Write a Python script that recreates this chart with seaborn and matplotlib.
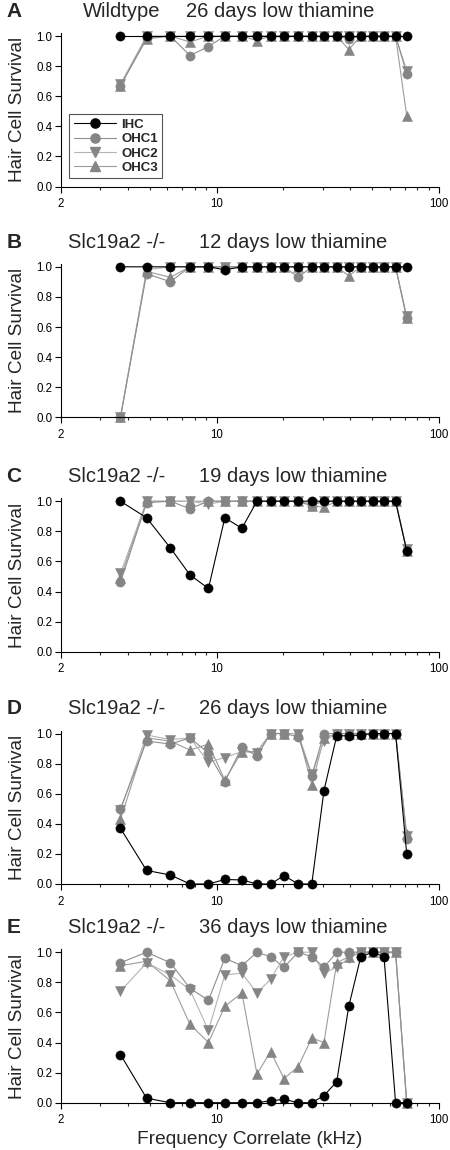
import matplotlib
matplotlib.use('Agg')
import matplotlib.pyplot as plt
import matplotlib.ticker as mticker
from matplotlib.lines import Line2D
import seaborn as sns

# frequency correlate of each counted cochlear position (kHz)
freq_khz = [3.7, 4.85, 6.2, 7.6, 9.2, 10.9, 13.0, 15.2, 17.5, 20.1,
            23.3, 26.8, 30.4, 34.7, 39.3, 44.5, 50.3, 56.6, 63.8, 71.6]

# A: wildtype, 26 days low thiamine
ihc_a = [1.0, 1.0, 1.0, 1.0, 1.0, 1.0, 1.0, 1.0, 1.0, 1.0,
         1.0, 1.0, 1.0, 1.0, 1.0, 1.0, 1.0, 1.0, 1.0, 1.0]
ohc1_a = [0.67, 0.99, 1.0, 0.87, 0.93, 1.0, 1.0, 1.0, 1.0, 1.0,
          1.0, 1.0, 1.0, 1.0, 0.98, 1.0, 1.0, 1.0, 1.0, 0.75]
ohc2_a = [0.68, 1.0, 1.0, 1.0, 1.0, 1.0, 1.0, 1.0, 1.0, 1.0,
          1.0, 1.0, 1.0, 1.0, 1.0, 1.0, 1.0, 1.0, 1.0, 0.77]
ohc3_a = [0.67, 0.98, 1.0, 0.96, 1.0, 1.0, 1.0, 0.97, 1.0, 1.0,
          1.0, 1.0, 1.0, 1.0, 0.91, 1.0, 1.0, 1.0, 1.0, 0.47]

# B: Slc19a2 -/-, 12 days
ihc_b = [1.0, 1.0, 1.0, 1.0, 1.0, 0.98, 1.0, 1.0, 1.0, 1.0,
         1.0, 1.0, 1.0, 1.0, 1.0, 1.0, 1.0, 1.0, 1.0, 1.0]
ohc1_b = [0.0, 0.955, 0.90, 1.0, 1.0, 1.0, 1.0, 1.0, 1.0, 1.0,
          0.93, 1.0, 1.0, 1.0, 1.0, 1.0, 1.0, 1.0, 1.0, 0.66]
ohc2_b = [0.0, 0.98, 1.0, 1.0, 1.0, 1.0, 1.0, 1.0, 1.0, 1.0,
          1.0, 1.0, 1.0, 1.0, 1.0, 1.0, 1.0, 1.0, 1.0, 0.67]
ohc3_b = [0.0, 0.97, 0.93, 1.0, 1.0, 1.0, 1.0, 1.0, 1.0, 1.0,
          1.0, 1.0, 1.0, 1.0, 0.94, 1.0, 1.0, 1.0, 1.0, 0.66]

# C: Slc19a2 -/-, 19 days
ihc_c = [1.0, 0.89, 0.69, 0.51, 0.42, 0.89, 0.82, 1.0, 1.0, 1.0,
         1.0, 1.0, 1.0, 1.0, 1.0, 1.0, 1.0, 1.0, 1.0, 0.67]
ohc1_c = [0.46, 0.99, 1.0, 0.95, 1.0, 1.0, 1.0, 1.0, 1.0, 1.0,
          1.0, 0.97, 1.0, 1.0, 1.0, 1.0, 1.0, 1.0, 1.0, 0.67]
ohc2_c = [0.52, 1.0, 1.0, 1.0, 0.98, 1.0, 1.0, 1.0, 1.0, 1.0,
          1.0, 0.98, 1.0, 1.0, 1.0, 1.0, 1.0, 1.0, 1.0, 0.68]
ohc3_c = [0.49, 1.0, 1.0, 1.0, 1.0, 1.0, 1.0, 1.0, 1.0, 1.0,
          1.0, 0.97, 0.96, 1.0, 1.0, 1.0, 1.0, 1.0, 1.0, 0.67]

# D: Slc19a2 -/-, 26 days
ihc_d = [0.37, 0.09, 0.06, 0.0, 0.0, 0.03, 0.027, 0.0, 0.0, 0.056,
         0.0, 0.0, 0.62, 0.985, 0.985, 0.99, 1.0, 1.0, 1.0, 0.2]
ohc1_d = [0.50, 0.95, 0.93, 0.97, 0.87, 0.68, 0.91, 0.85, 1.0, 1.0,
          0.98, 0.72, 1.0, 1.0, 1.0, 1.0, 1.0, 1.0, 1.0, 0.30]
ohc2_d = [0.49, 0.99, 0.96, 0.97, 0.81, 0.84, 0.88, 0.87, 1.0, 1.0,
          1.0, 0.73, 0.95, 1.0, 1.0, 1.0, 1.0, 1.0, 1.0, 0.32]
ohc3_d = [0.43, 0.97, 0.95, 0.89, 0.93, 0.69, 0.88, 0.88, 1.0, 1.0,
          1.0, 0.66, 0.97, 1.0, 1.0, 1.0, 1.0, 1.0, 1.0, 0.33]

# E: Slc19a2 -/-, 36 days
ihc_e = [0.32, 0.03, 0.0, 0.0, 0.0, 0.0, 0.0, 0.0, 0.013, 0.022,
         0.0, 0.0, 0.047, 0.14, 0.64, 0.97, 1.0, 0.97, 0.0, 0.0]
ohc1_e = [0.93, 1.0, 0.93, 0.76, 0.68, 0.96, 0.91, 1.0, 0.97, 0.90,
          1.0, 0.97, 0.90, 1.0, 1.0, 1.0, 1.0, 1.0, 1.0, 0.0]
ohc2_e = [0.74, 0.93, 0.85, 0.75, 0.48, 0.85, 0.86, 0.73, 0.82, 0.97,
          1.0, 1.0, 0.86, 0.90, 0.96, 1.0, 1.0, 1.0, 1.0, 0.0]
ohc3_e = [0.91, 0.94, 0.81, 0.52, 0.40, 0.64, 0.73, 0.19, 0.34, 0.16,
          0.24, 0.43, 0.40, 0.93, 0.97, 1.0, 1.0, 1.0, 1.0, 0.0]

panel_letters = ['A', 'B', 'C', 'D', 'E']
genotypes = ['Wildtype', 'Slc19a2 -/-', 'Slc19a2 -/-', 'Slc19a2 -/-', 'Slc19a2 -/-']
conditions = ['26 days low thiamine', '12 days low thiamine', '19 days low thiamine',
              '26 days low thiamine', '36 days low thiamine']
cell_types = ['IHC', 'OHC1', 'OHC2', 'OHC3']
panel_data = [
    [ihc_a, ohc1_a, ohc2_a, ohc3_a],
    [ihc_b, ohc1_b, ohc2_b, ohc3_b],
    [ihc_c, ohc1_c, ohc2_c, ohc3_c],
    [ihc_d, ohc1_d, ohc2_d, ohc3_d],
    [ihc_e, ohc1_e, ohc2_e, ohc3_e],
]

# styling per cell type
marker_col = {'IHC': 'black', 'OHC1': '#858585', 'OHC2': '#858585', 'OHC3': '#858585'}
line_col = {'IHC': 'black', 'OHC1': '#8e8e8e', 'OHC2': '#b4b4b4', 'OHC3': '#9c9c9c'}
markers = {'IHC': 'o', 'OHC1': 'o', 'OHC2': 'v', 'OHC3': '^'}
msize = {'IHC': 6.6, 'OHC1': 6.6, 'OHC2': 7.2, 'OHC3': 7.2}

sns.set_style('ticks')
plt.rcParams['font.family'] = ['Liberation Sans', 'DejaVu Sans']

fig = plt.figure(figsize=(4.5, 11.5), dpi=100)

# pixel row of y=0 for each panel
zero_px = [186.5, 417.3, 651.7, 884.0, 1102.7]
ax_h_px = 153.5
title_y = 1.105

for i in range(5):
    ax = fig.add_axes([61 / 450, 1 - zero_px[i] / 1150, 378 / 450, ax_h_px / 1150])
    series = dict(zip(cell_types, panel_data[i]))
    # grey cells first so the IHC markers sit on top
    for ct in ['OHC3', 'OHC2', 'OHC1', 'IHC']:
        sns.lineplot(x=freq_khz, y=series[ct], ax=ax, color=line_col[ct],
                     marker=markers[ct], markersize=msize[ct],
                     markerfacecolor=marker_col[ct], markeredgecolor=marker_col[ct],
                     markeredgewidth=0.4, linewidth=0.8, clip_on=False)
    if ax.get_legend() is not None:
        ax.get_legend().remove()

    ax.set_xscale('log')
    ax.set_xlim(2, 100)
    ax.set_ylim(0, 1.02)
    ax.xaxis.set_major_locator(mticker.FixedLocator([2, 10, 100]))
    ax.xaxis.set_major_formatter(mticker.FixedFormatter(['2', '10', '100']))
    ax.xaxis.set_minor_locator(mticker.FixedLocator([3, 4, 5, 6, 7, 8, 9,
                                                     20, 30, 40, 50, 60, 70, 80, 90]))
    ax.xaxis.set_minor_formatter(mticker.NullFormatter())
    ax.set_yticks([0.0, 0.2, 0.4, 0.6, 0.8, 1.0])
    ax.yaxis.set_major_formatter(mticker.FormatStrFormatter('%.1f'))
    ax.tick_params(axis='both', which='major', direction='out', length=4.3, width=0.8,
                   labelsize=8.3, colors='black')
    ax.tick_params(axis='x', which='major', pad=4)
    ax.tick_params(axis='y', which='major', pad=2)
    ax.tick_params(axis='x', which='minor', direction='out', length=2.5, width=0.8)
    sns.despine(ax=ax)
    for s in ['left', 'bottom']:
        ax.spines[s].set_linewidth(0.8)
        ax.spines[s].set_color('black')
    ax.set_xlabel('')
    ax.set_ylabel('')

    ax.text((18 - 61) / 378, 0.5, 'Hair Cell Survival', rotation=90, ha='center',
            va='center', fontsize=13.7, transform=ax.transAxes)

    # panel letter and title
    ax.text((14 - 61) / 378, title_y, panel_letters[i], ha='center', va='baseline',
            fontsize=15, fontweight='bold', transform=ax.transAxes)
    if i == 0:
        ax.text((83 - 61) / 378, title_y, genotypes[i], ha='left', va='baseline',
                fontsize=14.5, transform=ax.transAxes)
        ax.text((185.7 - 61) / 378, title_y, conditions[i], ha='left', va='baseline',
                fontsize=14.5, transform=ax.transAxes)
    else:
        ax.text((68.3 - 61) / 378, title_y, genotypes[i], ha='left', va='baseline',
                fontsize=14.5, transform=ax.transAxes)
        ax.text((199.3 - 61) / 378, title_y, conditions[i], ha='left', va='baseline',
                fontsize=14.5, transform=ax.transAxes)

    if i == 0:
        handles = [Line2D([], [], color=line_col[ct], marker=markers[ct],
                          markersize=msize[ct], markerfacecolor=marker_col[ct],
                          markeredgecolor=marker_col[ct], linewidth=0.8, label=ct)
                   for ct in cell_types]
        leg = ax.legend(handles=handles, loc='lower left', bbox_to_anchor=(0.021, 0.053),
                        borderaxespad=0, fancybox=False, framealpha=1,
                        edgecolor='#555555', handlelength=3.2, handletextpad=0.4,
                        labelspacing=0.15, borderpad=0.35,
                        prop={'weight': 'bold', 'size': 9.5})
        leg.get_frame().set_linewidth(0.8)

    if i == 4:
        ax.text(0.5, (1102.7 - 1140) / ax_h_px, 'Frequency Correlate (kHz)',
                ha='center', va='center', fontsize=13.8, transform=ax.transAxes)

fig.savefig('out.png', dpi=100)
